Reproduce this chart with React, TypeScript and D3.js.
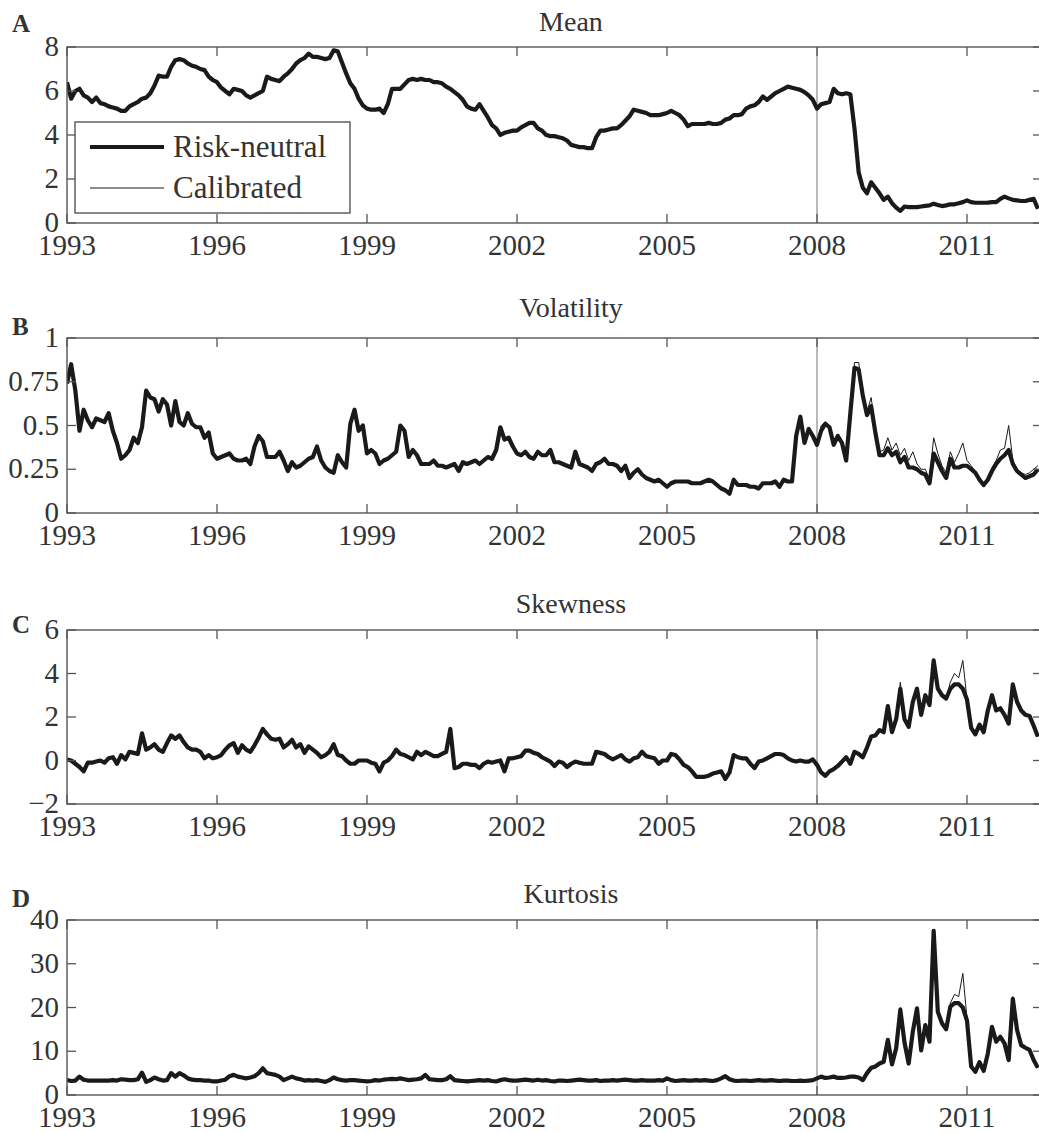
import React from 'react';
import * as d3 from 'd3';

// Monthly observations, January 1993 onwards (one row per year).
const START_YEAR = 1993;

const meanRiskNeutral = [
  6.4, 5.65, 6.0, 6.1, 5.8, 5.7, 5.5, 5.7, 5.45, 5.4, 5.3, 5.25,
  5.2, 5.1, 5.1, 5.3, 5.4, 5.5, 5.65, 5.7, 5.9, 6.25, 6.7, 6.65,
  6.65, 7.1, 7.4, 7.45, 7.4, 7.25, 7.15, 7.1, 7.0, 6.95, 6.65, 6.5,
  6.4, 6.15, 6.0, 5.85, 6.1, 6.05, 6.0, 5.8, 5.7, 5.8, 5.9, 6.0,
  6.65, 6.55, 6.5, 6.45, 6.65, 6.8, 7.0, 7.25, 7.4, 7.5, 7.7, 7.55,
  7.55, 7.5, 7.45, 7.5, 7.85, 7.8, 7.3, 6.8, 6.35, 6.1, 5.65, 5.35,
  5.2, 5.15, 5.15, 5.2, 5.0, 5.4, 6.1, 6.1, 6.1, 6.3, 6.5, 6.55,
  6.5, 6.55, 6.5, 6.5, 6.4, 6.4, 6.35, 6.2, 6.1, 5.95, 5.8, 5.6,
  5.3, 5.2, 5.15, 5.4, 5.1, 4.8, 4.45, 4.3, 4.0, 4.1, 4.15, 4.2,
  4.2, 4.35, 4.45, 4.55, 4.55, 4.3, 4.2, 4.0, 3.95, 3.95, 3.9, 3.85,
  3.75, 3.55, 3.5, 3.45, 3.45, 3.4, 3.4, 3.9, 4.2, 4.2, 4.25, 4.3,
  4.3, 4.45, 4.65, 4.85, 5.15, 5.1, 5.05, 5.0, 4.9, 4.9, 4.9, 4.95,
  5.0, 5.1, 5.0, 4.9, 4.7, 4.4, 4.5, 4.5, 4.5, 4.5, 4.55, 4.5,
  4.5, 4.55, 4.7, 4.75, 4.9, 4.9, 4.95, 5.2, 5.3, 5.35, 5.5, 5.75,
  5.6, 5.75, 5.9, 6.0, 6.1, 6.2, 6.15, 6.1, 6.05, 5.95, 5.8, 5.6,
  5.2, 5.4, 5.45, 5.5, 6.1, 5.9, 5.85, 5.9, 5.85, 4.3, 2.3, 1.6,
  1.35, 1.85, 1.6, 1.35, 1.05, 1.2, 0.9, 0.7, 0.55, 0.75, 0.72, 0.72,
  0.72, 0.75, 0.78, 0.8, 0.88, 0.82, 0.77, 0.8, 0.85, 0.85, 0.9, 0.95,
  1.03, 0.95, 0.92, 0.92, 0.92, 0.93, 0.95, 0.95, 1.1, 1.2, 1.12, 1.05,
  1.03, 1.0, 1.0, 1.05, 1.1, 0.65,
];

const volRiskNeutral = [
  0.74, 0.85, 0.7, 0.47, 0.59, 0.53, 0.49, 0.54, 0.53, 0.52, 0.57, 0.47,
  0.4, 0.31, 0.33, 0.36, 0.43, 0.4, 0.49, 0.7, 0.66, 0.65, 0.58, 0.65,
  0.62, 0.5, 0.64, 0.52, 0.5, 0.57, 0.51, 0.49, 0.49, 0.43, 0.46, 0.34,
  0.31, 0.32, 0.33, 0.34, 0.31, 0.3, 0.3, 0.31, 0.28, 0.38, 0.44, 0.41,
  0.32, 0.32, 0.32, 0.35, 0.3, 0.24, 0.29, 0.26, 0.27, 0.29, 0.31, 0.32,
  0.38, 0.3, 0.26, 0.24, 0.23, 0.33, 0.29, 0.26, 0.51, 0.59, 0.47, 0.5,
  0.34, 0.36, 0.34, 0.28, 0.3, 0.31, 0.33, 0.35, 0.5, 0.47, 0.32, 0.36,
  0.33, 0.28, 0.28, 0.28, 0.3, 0.27, 0.27, 0.26, 0.27, 0.28, 0.24, 0.29,
  0.28, 0.29, 0.3, 0.28, 0.3, 0.32, 0.31, 0.36, 0.49, 0.42, 0.43, 0.38,
  0.34, 0.33, 0.35, 0.32, 0.31, 0.35, 0.33, 0.33, 0.36, 0.29, 0.29, 0.28,
  0.27, 0.26, 0.35, 0.28, 0.27, 0.26, 0.24, 0.28, 0.29, 0.31, 0.28, 0.28,
  0.27, 0.24, 0.27, 0.2, 0.23, 0.25, 0.22, 0.2, 0.19, 0.18, 0.19, 0.17,
  0.15, 0.17, 0.18, 0.18, 0.18, 0.18, 0.17, 0.17, 0.17, 0.18, 0.19, 0.18,
  0.16, 0.14, 0.13, 0.11, 0.19, 0.16, 0.16, 0.16, 0.15, 0.15, 0.14, 0.17,
  0.17, 0.17, 0.18, 0.15, 0.19, 0.18, 0.18, 0.44, 0.55, 0.4, 0.48, 0.44,
  0.39, 0.47, 0.51, 0.49, 0.39, 0.44, 0.4, 0.3, 0.57, 0.83, 0.82, 0.67,
  0.56, 0.61, 0.46, 0.33, 0.33, 0.37, 0.33, 0.35, 0.29, 0.32, 0.26, 0.26,
  0.25, 0.23, 0.22, 0.17, 0.34, 0.29, 0.24, 0.2, 0.31, 0.26, 0.26, 0.27,
  0.27, 0.25, 0.23, 0.19, 0.16, 0.19, 0.24, 0.28, 0.31, 0.33, 0.36, 0.28,
  0.24, 0.22, 0.2, 0.21, 0.22, 0.25,
];

// Calibrated volatility from January 2008 (earlier months coincide with the risk-neutral series)
const volCalibratedFrom2008 = [
  0.4, 0.5, 0.52, 0.5, 0.4, 0.45, 0.41, 0.31, 0.6, 0.86, 0.86, 0.69,
  0.58, 0.66, 0.48, 0.35, 0.36, 0.43, 0.36, 0.4, 0.33, 0.37, 0.3, 0.35,
  0.28, 0.25, 0.25, 0.19, 0.43, 0.34, 0.27, 0.23, 0.35, 0.29, 0.34, 0.4,
  0.3, 0.27, 0.24, 0.2, 0.17, 0.2, 0.26, 0.3, 0.36, 0.37, 0.5, 0.3,
  0.25, 0.23, 0.22, 0.23, 0.25, 0.27,
];

const skewRiskNeutral = [
  0.05, 0.0, -0.15, -0.3, -0.5, -0.1, -0.1, -0.05, 0.0, -0.1, 0.1, 0.15,
  -0.15, 0.25, 0.05, 0.4, 0.35, 0.3, 1.25, 0.5, 0.6, 0.75, 0.5, 0.4,
  0.8, 1.15, 1.0, 1.15, 0.85, 0.6, 0.5, 0.5, 0.4, 0.1, 0.25, 0.1,
  0.15, 0.25, 0.5, 0.7, 0.8, 0.35, 0.7, 0.5, 0.4, 0.7, 1.05, 1.45,
  1.2, 1.0, 0.95, 1.0, 0.6, 0.75, 0.95, 0.6, 0.75, 0.35, 0.65, 0.5,
  0.35, 0.15, 0.25, 0.4, 0.75, 0.25, 0.2, 0.0, -0.15, -0.15, 0.0, 0.0,
  0.0, -0.1, -0.15, -0.5, -0.1, 0.0, 0.2, 0.5, 0.3, 0.25, 0.15, 0.05,
  0.4, 0.25, 0.4, 0.3, 0.2, 0.2, 0.3, 0.4, 1.45, -0.35, -0.3, -0.15,
  -0.15, -0.2, -0.2, -0.35, -0.15, -0.05, -0.1, -0.05, 0.0, -0.5, 0.1, 0.1,
  0.15, 0.2, 0.45, 0.45, 0.35, 0.3, 0.15, 0.05, -0.05, -0.25, -0.05, -0.1,
  -0.3, -0.15, -0.05, -0.1, -0.15, -0.15, -0.15, 0.4, 0.35, 0.3, 0.15, 0.05,
  0.15, 0.25, 0.05, -0.05, 0.1, 0.15, 0.4, 0.2, 0.15, 0.1, -0.15, 0.0,
  0.0, 0.3, 0.25, 0.05, -0.2, -0.3, -0.5, -0.75, -0.75, -0.75, -0.7, -0.6,
  -0.55, -0.5, -0.85, -0.55, 0.25, 0.15, 0.1, 0.1, -0.15, -0.35, -0.05, 0.0,
  0.1, 0.2, 0.3, 0.3, 0.25, 0.1, 0.0, -0.05, 0.0, -0.05, -0.05, 0.05,
  -0.2, -0.55, -0.7, -0.5, -0.4, -0.25, -0.05, 0.15, -0.15, 0.4, 0.3, 0.15,
  0.6, 1.1, 1.15, 1.4, 1.3, 2.5, 1.3, 1.9, 3.3, 1.9, 1.55, 2.7,
  3.3, 2.1, 3.0, 2.55, 4.6, 3.3, 3.0, 2.85, 3.3, 3.5, 3.5, 3.3,
  2.8, 1.5, 1.2, 1.65, 1.3, 2.3, 3.0, 2.3, 2.4, 2.1, 1.7, 3.5,
  2.7, 2.3, 2.1, 2.05, 1.6, 1.1,
];

const skewCalibratedFrom2008 = [
  -0.2, -0.55, -0.7, -0.5, -0.4, -0.25, -0.05, 0.15, -0.15, 0.4, 0.3, 0.15,
  0.6, 1.1, 1.2, 1.4, 1.3, 2.55, 1.3, 1.95, 3.6, 1.9, 1.55, 2.75,
  3.35, 2.1, 3.0, 2.55, 4.6, 3.3, 3.0, 2.85, 3.6, 4.0, 3.8, 4.6,
  2.8, 1.5, 1.2, 1.65, 1.3, 2.3, 3.0, 2.3, 2.4, 2.1, 1.7, 3.55,
  2.7, 2.3, 2.1, 2.05, 1.6, 1.1,
];

const kurtRiskNeutral = [
  3.4, 3.2, 3.3, 4.2, 3.5, 3.3, 3.3, 3.3, 3.3, 3.3, 3.3, 3.4,
  3.3, 3.6, 3.5, 3.4, 3.4, 3.6, 5.1, 3.0, 3.4, 4.0, 3.6, 3.3,
  3.4, 5.0, 4.2, 5.0, 4.5, 3.8, 3.5, 3.4, 3.4, 3.3, 3.3, 3.1,
  3.1, 3.3, 3.5, 4.3, 4.6, 4.2, 4.0, 3.8, 4.0, 4.3, 5.0, 6.1,
  5.0, 4.8, 4.6, 4.2, 3.4, 3.8, 4.2, 3.8, 3.6, 3.3, 3.4, 3.3,
  3.4, 3.2, 3.0, 3.4, 4.0, 3.6, 3.4, 3.3, 3.4, 3.4, 3.3, 3.2,
  3.1, 3.2, 3.4, 3.3, 3.5, 3.6, 3.7, 3.6, 3.8, 3.6, 3.4, 3.5,
  3.6, 3.8, 4.6, 3.6, 3.5, 3.4, 3.4, 3.6, 4.3, 3.4, 3.3, 3.2,
  3.1, 3.2, 3.3, 3.4, 3.3, 3.4, 3.2, 3.1, 3.4, 3.6, 3.4, 3.3,
  3.3, 3.4, 3.5, 3.4, 3.3, 3.5, 3.3, 3.4, 3.2, 3.1, 3.3, 3.3,
  3.2, 3.3, 3.4, 3.5, 3.4, 3.3, 3.3, 3.4, 3.2, 3.3, 3.3, 3.4,
  3.3, 3.4, 3.5, 3.4, 3.3, 3.3, 3.4, 3.3, 3.3, 3.3, 3.4, 3.3,
  3.8, 3.4, 3.2, 3.3, 3.4, 3.3, 3.3, 3.4, 3.3, 3.4, 3.3, 3.2,
  3.4, 3.8, 4.3, 3.6, 3.3, 3.2, 3.3, 3.3, 3.2, 3.3, 3.4, 3.3,
  3.3, 3.4, 3.3, 3.2, 3.3, 3.3, 3.2, 3.2, 3.3, 3.2, 3.3, 3.4,
  3.8, 4.2, 3.9, 4.0, 4.2, 3.9, 3.9, 4.0, 4.2, 4.2, 4.0, 3.4,
  5.0, 6.2, 6.5, 7.2, 7.6, 12.6, 7.0, 10.7, 19.5, 12.0, 7.2, 14.5,
  19.8, 10.2, 16.0, 12.2, 37.5, 19.0, 16.4, 15.0, 20.2, 21.0, 21.0, 20.0,
  17.0, 6.5, 5.3, 7.5, 5.5, 9.5, 15.6, 12.2, 13.3, 11.8, 8.0, 22.0,
  14.9, 11.4, 10.8, 10.3, 8.0, 6.2,
];

const kurtCalibratedFrom2008 = [
  3.8, 4.2, 3.9, 4.0, 4.2, 3.9, 3.9, 4.0, 4.2, 4.2, 4.0, 3.4,
  5.0, 6.2, 6.6, 7.2, 7.6, 12.8, 7.0, 10.9, 20.0, 12.0, 7.2, 14.6,
  20.0, 10.2, 16.0, 12.2, 37.5, 19.0, 16.4, 15.0, 21.0, 23.0, 22.5, 27.8,
  17.5, 6.5, 5.3, 7.5, 5.5, 9.5, 15.6, 12.2, 13.3, 11.8, 8.0, 22.5,
  14.9, 11.4, 10.8, 10.3, 8.0, 6.2,
];

const PRE_2008_MONTHS = (2008 - START_YEAR) * 12;

const xTickYears = [1993, 1996, 1999, 2002, 2005, 2008, 2011];
const meanTicks = [0, 2, 4, 6, 8];
const volTicks = [0, 0.25, 0.5, 0.75, 1];
const volTickLabels = ['0', '0.25', '0.5', '0.75', '1'];
const skewTicks = [-2, 0, 2, 4, 6];
const skewTickLabels = ['\u22122', '0', '2', '4', '6'];
const kurtTicks = [0, 10, 20, 30, 40];

const legendLabels = ['Risk-neutral', 'Calibrated'];

const FONT = "'Liberation Serif', 'DejaVu Serif', 'Times New Roman', Times, serif";
const AXIS = '#555';
const INK = '#333';
const LINE = '#1a1a1a';

const W = 1039;
const H = 1133;
const LEFT = 67;
const RIGHT = 1042;
const TICK = 9;

type Panel = {
  key: string;
  letter: string;
  title: string;
  riskNeutral: number[];
  calibrated: number[];
  domain: [number, number];
  ticks: number[];
  tickLabels: string[];
  top: number;
  bottom: number;
  letterY: number;
  titleY: number;
};

const panels: Panel[] = [
  {
    key: 'mean', letter: 'A', title: 'Mean',
    riskNeutral: meanRiskNeutral, calibrated: meanRiskNeutral,
    domain: [0, 8], ticks: meanTicks, tickLabels: meanTicks.map(String),
    top: 47, bottom: 223, letterY: 32, titleY: 31,
  },
  {
    key: 'vol', letter: 'B', title: 'Volatility',
    riskNeutral: volRiskNeutral,
    calibrated: volRiskNeutral.slice(0, PRE_2008_MONTHS).concat(volCalibratedFrom2008),
    domain: [0, 1], ticks: volTicks, tickLabels: volTickLabels,
    top: 338, bottom: 513, letterY: 335, titleY: 317,
  },
  {
    key: 'skew', letter: 'C', title: 'Skewness',
    riskNeutral: skewRiskNeutral,
    calibrated: skewRiskNeutral.slice(0, PRE_2008_MONTHS).concat(skewCalibratedFrom2008),
    domain: [-2, 6], ticks: skewTicks, tickLabels: skewTickLabels,
    top: 630, bottom: 804, letterY: 633, titleY: 613,
  },
  {
    key: 'kurt', letter: 'D', title: 'Kurtosis',
    riskNeutral: kurtRiskNeutral,
    calibrated: kurtRiskNeutral.slice(0, PRE_2008_MONTHS).concat(kurtCalibratedFrom2008),
    domain: [0, 40], ticks: kurtTicks, tickLabels: kurtTicks.map(String),
    top: 920, bottom: 1095, letterY: 907, titleY: 903,
  },
];

const x = d3.scaleLinear().domain([1993, 2012.5]).range([LEFT, RIGHT]);
const monthToYear = (i: number) => START_YEAR + i / 12;

const textStyle = { fontFamily: FONT } as React.CSSProperties;

function PanelView({ p }: { p: Panel }) {
  const y = d3.scaleLinear().domain(p.domain).range([p.bottom, p.top]);
  const line = d3
    .line<number>()
    .x((_, i) => x(monthToYear(i)))
    .y((d) => y(d));
  const clipId = `clip-${p.key}`;
  return (
    <g>
      <defs>
        <clipPath id={clipId}>
          <rect x={LEFT} y={p.top} width={RIGHT - LEFT} height={p.bottom - p.top} />
        </clipPath>
      </defs>
      <text x={12} y={p.letterY} style={textStyle} fontWeight="bold" fontSize={25} fill={INK}>
        {p.letter}
      </text>
      <text x={571} y={p.titleY} style={textStyle} fontSize={28} fill={INK} textAnchor="middle">
        {p.title}
      </text>
      <line x1={x(2008)} x2={x(2008)} y1={p.top} y2={p.bottom} stroke="#8a8a8a" strokeWidth={1.2} />
      <g clipPath={`url(#${clipId})`}>
        <path d={line(p.riskNeutral) || ''} fill="none" stroke={LINE} strokeWidth={4.2} strokeLinejoin="round" />
        <path d={line(p.calibrated) || ''} fill="none" stroke={LINE} strokeWidth={1} strokeLinejoin="round" />
      </g>
      <rect x={LEFT} y={p.top} width={RIGHT - LEFT} height={p.bottom - p.top} fill="none" stroke={AXIS} strokeWidth={1.4} />
      {xTickYears.map((yr) => (
        <g key={yr}>
          <line x1={x(yr)} x2={x(yr)} y1={p.bottom} y2={p.bottom - TICK} stroke={AXIS} strokeWidth={1.3} />
          <line x1={x(yr)} x2={x(yr)} y1={p.top} y2={p.top + TICK} stroke={AXIS} strokeWidth={1.3} />
          <text x={x(yr)} y={p.bottom + 32} style={textStyle} fontSize={29} fill={INK} textAnchor="middle">
            {yr}
          </text>
        </g>
      ))}
      {p.ticks.map((t, i) => (
        <g key={t}>
          <line x1={LEFT} x2={LEFT + TICK} y1={y(t)} y2={y(t)} stroke={AXIS} strokeWidth={1.3} />
          <line x1={RIGHT} x2={RIGHT - TICK} y1={y(t)} y2={y(t)} stroke={AXIS} strokeWidth={1.3} />
          <text x={59} y={y(t) + 9} style={textStyle} fontSize={29} fill={INK} textAnchor="end">
            {p.tickLabels[i]}
          </text>
        </g>
      ))}
    </g>
  );
}

function Legend() {
  return (
    <g>
      <rect x={75} y={122} width={275} height={91} fill="#fff" stroke={AXIS} strokeWidth={1.4} />
      <line x1={90} x2={164} y1={147} y2={147} stroke={LINE} strokeWidth={4.2} />
      <text x={173} y={157} style={textStyle} fontSize={31} fill={INK}>{legendLabels[0]}</text>
      <line x1={90} x2={164} y1={188} y2={188} stroke={LINE} strokeWidth={1} />
      <text x={173} y={198} style={textStyle} fontSize={31} fill={INK}>{legendLabels[1]}</text>
    </g>
  );
}

export default function App() {
  return (
    <svg
      width={W}
      height={H}
      viewBox={`0 0 ${W} ${H}`}
      style={{ position: 'absolute', left: 0, top: 0, background: '#fff' }}
    >
      <rect x={0} y={0} width={W} height={H} fill="#fff" />
      {panels.map((p) => (
        <PanelView key={p.key} p={p} />
      ))}
      <Legend />
    </svg>
  );
}
